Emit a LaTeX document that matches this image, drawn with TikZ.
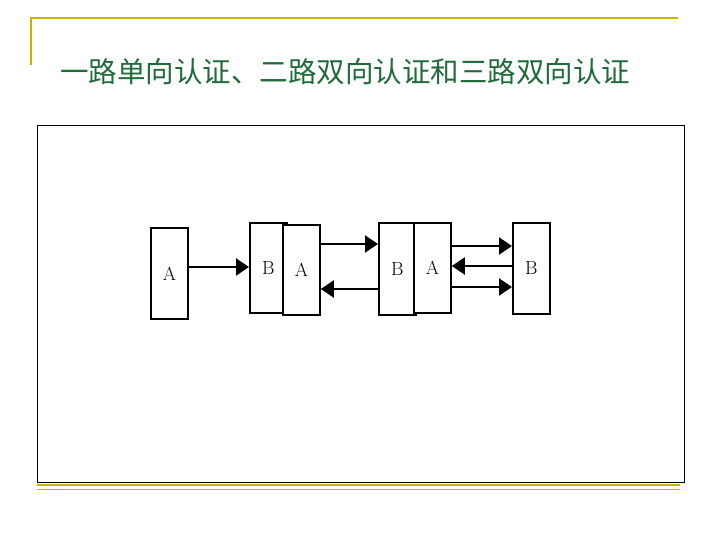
\documentclass[tikz,border=0pt]{standalone}
\usepackage{fontspec}
\newfontfamily\cjk{Noto Sans CJK SC}
\usetikzlibrary{arrows.meta}
\definecolor{olive}{HTML}{C8B400}
\definecolor{titlegreen}{HTML}{1F6B3A}
\tikzset{
  ent/.style={draw=black,line width=1.8pt,fill=white,minimum width=37pt,inner sep=0pt,font=\fontsize{19}{19}\selectfont},
  msg/.style={line width=2.2pt,-{Triangle[length=13pt,width=17pt]}},
  deco/.style={draw=olive,line width=1.5pt}
}
\begin{document}
\begin{tikzpicture}[x=1pt,y=-1pt]
\useasboundingbox (0,0) rectangle (720,539);
\draw[deco] (31,65) -- (31,18) -- (678,18);
\draw[deco] (37,485) -- (680,485);
\draw[olive,line width=0.8pt] (37,489) -- (680,489);
\node[anchor=west,text=titlegreen,font=\cjk\fontsize{28.5}{28.5}\selectfont,inner sep=0pt] (title) at (60,72) {一路单向认证、二路双向认证和三路双向认证};
\node[draw=black,line width=0.8pt,minimum width=647pt,minimum height=357pt,anchor=north west,inner sep=0pt] (frame) at (37,125) {};
\node[ent,minimum height=91pt,anchor=north west] (a1) at (150,227) {A};
\node[ent,minimum height=90pt,anchor=north west] (b1) at (249,222) {B};
\node[ent,minimum height=90pt,anchor=north west] (a2) at (282,224) {A};
\node[ent,minimum height=92pt,anchor=north west] (b2) at (378,222) {B};
\node[ent,minimum height=90pt,anchor=north west] (a3) at (413,222) {A};
\node[ent,minimum height=91pt,anchor=north west] (b3) at (512,222) {B};
\draw[msg] (a1.east |- 0,267) -- (b1.west |- 0,267);
\draw[msg] (a2.east |- 0,244) -- (b2.west |- 0,244);
\draw[msg] (b2.west |- 0,289) -- (a2.east |- 0,289);
\draw[msg] (a3.east |- 0,246) -- (b3.west |- 0,246);
\draw[msg] (b3.west |- 0,266) -- (a3.east |- 0,266);
\draw[msg] (a3.east |- 0,287) -- (b3.west |- 0,287);
\end{tikzpicture}
\end{document}
